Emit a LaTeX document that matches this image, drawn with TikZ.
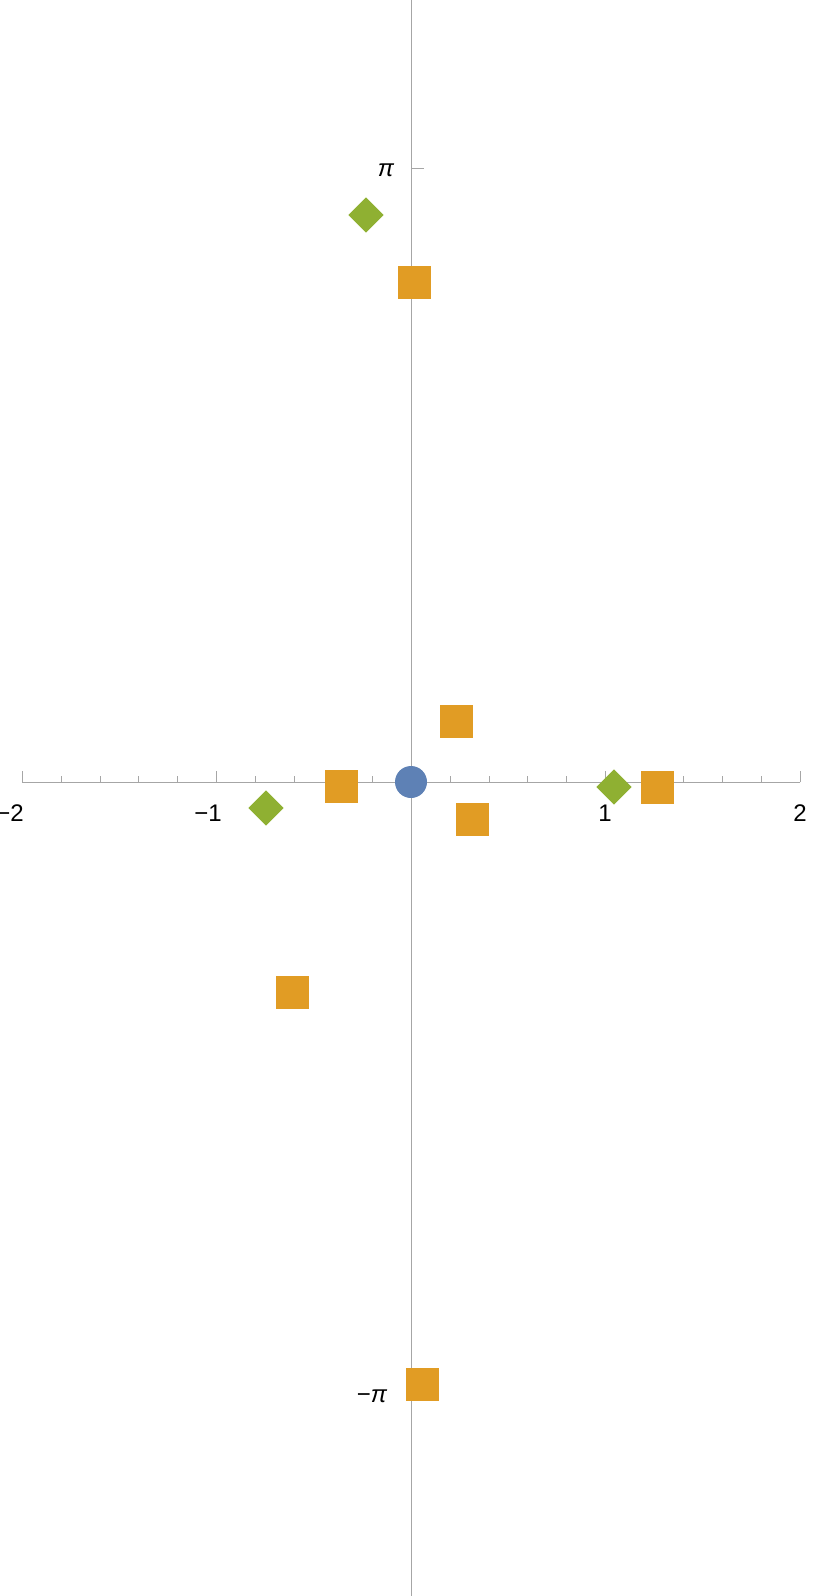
\documentclass[tikz,border=0pt]{standalone}
\usepackage{fontspec}
\setmainfont{Liberation Sans}
\usetikzlibrary{shapes.geometric}
\definecolor{mblue}{HTML}{5E81B5}
\definecolor{morange}{HTML}{E19C24}
\definecolor{mgreen}{HTML}{8FB032}
\begin{document}
\begin{tikzpicture}[x=1pt,y=-1pt,
  ax/.style={draw=gray!70,line width=0.8pt},
  sq/.style={fill=morange,minimum size=33pt,inner sep=0pt,rectangle},
  dm/.style={fill=mgreen,minimum size=25pt,inner sep=0pt,rectangle,rotate=45},
  lab/.style={font=\fontsize{24}{28}\selectfont,inner sep=0pt}]
\clip (0,0) rectangle (830,1596);
\draw[ax] (22,782) -- (800,782);
\draw[ax] (411,0) -- (411,1596);
\foreach \i in {0,...,20}{\draw[ax,line width=0.5pt] ({22+\i*38.9},782) -- ({22+\i*38.9},776);}
\foreach \x in {22,216.5,605.5,800}{\draw[ax] (\x,782) -- (\x,771);}
\draw[ax] (411,168) -- (424,168);
\draw[ax] (411,1396) -- (424,1396);
\node[lab] (lm2) at (10,813) {−2};
\node[lab] (lm1) at (208,813) {−1};
\node[lab] (l1) at (605,813) {1};
\node[lab] (l2) at (800,813) {2};
\node[lab] (lpi) at (386,170) {\textit{π}};
\node[lab] (lmpi) at (372,1396) {−\textit{π}};
\node[sq] (s1) at (414,282) {};
\node[sq] (s2) at (456,721) {};
\node[sq] (s3) at (341,786) {};
\node[sq] (s4) at (472,819) {};
\node[sq] (s5) at (657,787) {};
\node[sq] (s6) at (292,992) {};
\node[sq] (s7) at (422,1384) {};
\node[dm] (d1) at (366,215) {};
\node[dm] (d2) at (266,808) {};
\node[dm] (d3) at (614,787) {};
\node[circle,fill=mblue,minimum size=32pt,inner sep=0pt] (c0) at (411,782) {};
\end{tikzpicture}
\end{document}
